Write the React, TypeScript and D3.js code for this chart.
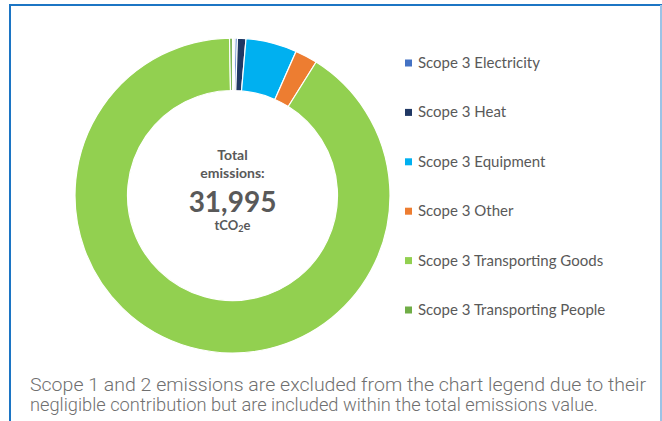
import React from "react";
import * as d3 from "d3";

const categories = [
  "Scope 1",
  "Scope 2",
  "Scope 3 Electricity",
  "Scope 3 Heat",
  "Scope 3 Equipment",
  "Scope 3 Other",
  "Scope 3 Transporting Goods",
  "Scope 3 Transporting People",
];
const values = [40, 46, 74, 278, 1677, 736, 29048, 96];
const colors = ["#BFBFBF", "#A5A5A5", "#4472C4", "#203864", "#00B0F0", "#ED7D31", "#92D050", "#70AD47"];
const legendItems = categories.slice(2);
const legendColors = colors.slice(2);
const centerLines = ["Total", "emissions:"];
const totalLabel = "31,995";
const footnote = [
  "Scope 1 and 2 emissions are excluded from the chart legend due to their",
  "negligible contribution but are included within the total emissions value.",
];
const footnoteWidths = [616, 568];

export default function App() {
  const W = 662;
  const H = 421;
  const cx = 232.5;
  const cy = 195.5;
  const outerR = 157.5;
  const innerR = 105;

  const pie = d3.pie<number>().sort(null).value((d) => d)(values);
  const arc = d3.arc<d3.PieArcDatum<number>>().innerRadius(innerR).outerRadius(outerR);

  const legendY = d3.scalePoint<string>().domain(legendItems).range([63, 310]);

  const textColor = "#595959";
  const font = "Lato, 'Open Sans', sans-serif";

  return (
    <svg width={W} height={H} style={{ position: "absolute", left: 0, top: 0, background: "#fff" }}>
      <rect x={0} y={0} width={W} height={H} fill="#ffffff" />
      <path d={`M10,${H + 5} V5 H661 V${H + 5}`} fill="none" stroke="#1C75C4" strokeWidth={2} />
      <path d={`M661,5 V${H + 5}`} fill="none" stroke="#9CC3E6" strokeWidth={2} />
      <g transform={`translate(${cx},${cy})`}>
        {pie.map((p, i) => (
          <path key={i} d={arc(p) || ""} fill={colors[i]} stroke="#ffffff" strokeWidth={1.2} />
        ))}
        <text textAnchor="middle" y={-36} fontFamily={font} fontWeight={700} fontSize={14} fill={textColor}>
          {centerLines[0]}
        </text>
        <text textAnchor="middle" y={-18} fontFamily={font} fontWeight={700} fontSize={14} fill={textColor}>
          {centerLines[1]}
        </text>
        <text textAnchor="middle" y={16} fontFamily={font} fontWeight={700} fontSize={28} fill={textColor}>
          {totalLabel}
        </text>
        <text textAnchor="middle" y={34} fontFamily={font} fontWeight={700} fontSize={13} fill={textColor}>
          tCO<tspan fontSize={9} dy={2}>2</tspan>
          <tspan dy={-2}>e</tspan>
        </text>
      </g>
      {legendItems.map((name, i) => (
        <g key={name} transform={`translate(405,${legendY(name)})`}>
          <rect x={0} y={-3.5} width={7} height={7} fill={legendColors[i]} />
          <text x={13} y={5} fontFamily={font} fontSize={15} fill={textColor}>
            {name}
          </text>
        </g>
      ))}
      {footnote.map((line, i) => (
        <text
          key={i}
          x={30}
          y={391 + i * 20}
          fontFamily="Roboto, 'Liberation Sans', sans-serif"
          fontWeight={300}
          fontSize={18.6}
          fill="#6f6f6f"
          textLength={footnoteWidths[i]}
          lengthAdjust="spacingAndGlyphs"
        >
          {line}
        </text>
      ))}
    </svg>
  );
}
